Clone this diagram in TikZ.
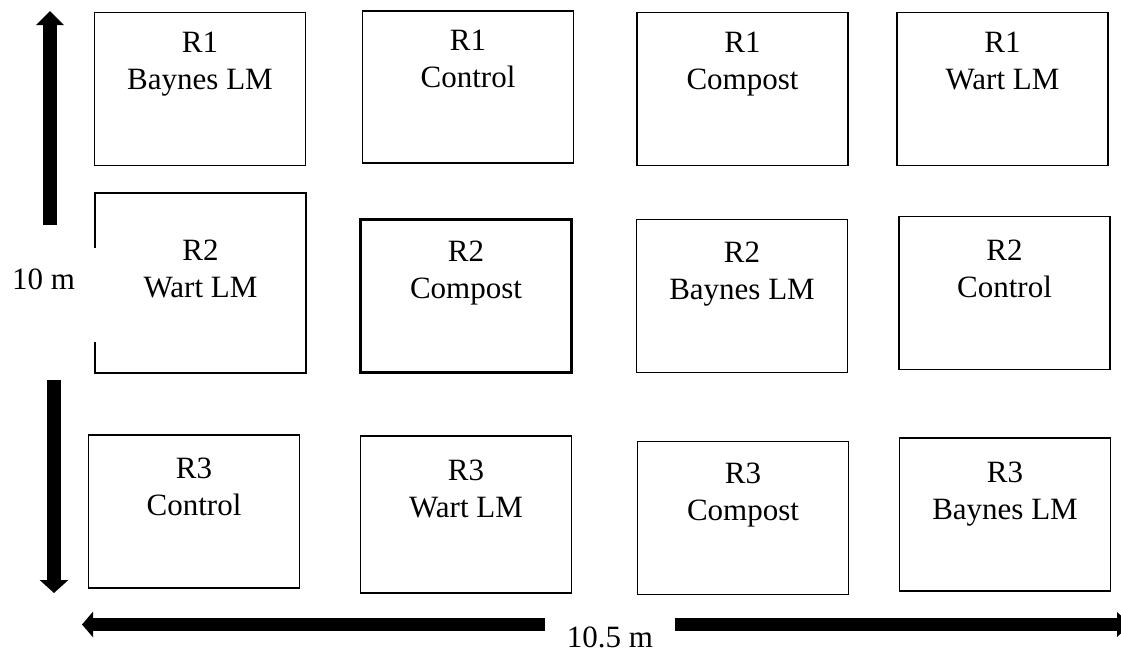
\documentclass[tikz,border=0pt]{standalone}
\usepackage{fontspec}
\setmainfont{Liberation Serif}
\usetikzlibrary{arrows.meta,positioning}

\begin{document}
\begin{tikzpicture}[x=1pt,y=-1pt,
 plot/.style={draw,line width=1.2pt,minimum width=211pt,minimum height=153pt,inner sep=0pt},
 plotlabel/.style={align=center,inner sep=0pt,font=\fontsize{31}{37}\selectfont},
 dimarrow/.style={line width=13pt,-{Triangle[length=14pt,width=27pt]}},
 dimlabel/.style={inner sep=0pt,font=\fontsize{31}{37}\selectfont}]
\useasboundingbox (0,0) rectangle (1121,653);
% row R1
\node[plot] (r1a) at (200,89) {};
\node[plot,minimum height=152pt] (r1b) at (468,87) {};
\node[plot] (r1c) at (742.5,89) {};
\node[plot] (r1d) at (1002.5,89) {};
\node[plotlabel,below=20pt of r1a.north] {R1\\Baynes LM};
\node[plotlabel,below=19pt of r1b.north] {R1\\Control};
\node[plotlabel,below=20pt of r1c.north] {R1\\Compost};
\node[plotlabel,below=20pt of r1d.north] {R1\\Wart LM};
% row R2
\node[plot,minimum height=180pt] (r2a) at (200.5,283) {};
\node[plot,line width=2.5pt] (r2b) at (466,296) {};
\node[plot] (r2c) at (742,296) {};
\node[plot] (r2d) at (1004.5,293) {};
\node[plotlabel,below=47pt of r2a.north] {R2\\Wart LM};
\node[plotlabel,below=23pt of r2b.north] {R2\\Compost};
\node[plotlabel,below=23pt of r2c.north] {R2\\Baynes LM};
\node[plotlabel,below=24pt of r2d.north] {R2\\Control};
% row R3
\node[plot] (r3a) at (194,511.5) {};
\node[plot,minimum height=157pt] (r3b) at (466,514.5) {};
\node[plot] (r3c) at (743,518) {};
\node[plot] (r3d) at (1005,514.5) {};
\node[plotlabel,below=23pt of r3a.north] {R3\\Control};
\node[plotlabel,below=24pt of r3b.north] {R3\\Wart LM};
\node[plotlabel,below=22pt of r3c.north] {R3\\Compost};
\node[plotlabel,below=24pt of r3d.north] {R3\\Baynes LM};
% dimensions
\node[dimlabel,fill=white,inner xsep=23pt,inner ysep=21pt,text depth=31pt,anchor=north] (side) at (43.5,248) {10 m};
\node[dimlabel,anchor=base] (width) at (610,647) {10.5 m};
\coordinate (uptop) at (50,11);
\coordinate (upfoot) at (50,225);
\coordinate (downtop) at (54,380);
\coordinate (downfoot) at (54,593);
\coordinate (lefttip) at (82,624.5);
\coordinate (leftfoot) at (545,624.5);
\coordinate (rightfoot) at (675,624.5);
\coordinate (righttip) at (1131,624.5);
\draw[dimarrow,line width=13.4pt] (upfoot) -- (uptop);
\draw[dimarrow,line width=14pt,-{Triangle[length=13pt,width=28pt]}] (downtop) -- (downfoot);
\draw[dimarrow,line width=12.5pt,-{Triangle[length=11pt,width=25pt]}] (leftfoot) -- (lefttip);
\draw[dimarrow,line width=12.5pt,-{Triangle[length=14pt,width=24pt]}] (rightfoot) -- (righttip);
\end{tikzpicture}
\end{document}
